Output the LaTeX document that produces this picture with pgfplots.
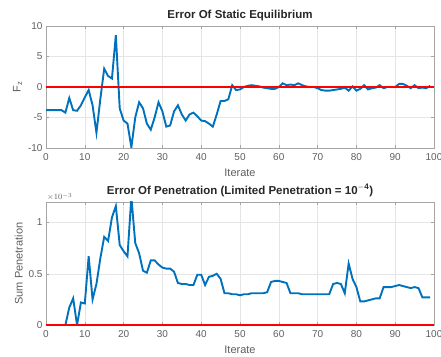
\documentclass[border=0pt]{standalone}
\usepackage{pgfplots}
\pgfplotsset{compat=1.18}
\usepackage{fontspec}
\setmainfont{Liberation Sans}
\definecolor{mblue}{RGB}{0,114,189}
\definecolor{tickgray}{RGB}{95,95,95}
\begin{document}
\begin{tikzpicture}
\useasboundingbox (0,0) rectangle (441pt,356pt);
\pgfplotsset{
  common/.style={
    scale only axis, width=388pt, anchor=south west,
    xmin=0, xmax=100, xtick={0,10,...,100},
    grid=major, major grid style={gray!20, line width=0.4pt},
    axis line style={gray!70, line width=0.6pt},
    tick style={gray!70, line width=0.5pt}, tick align=inside,
    major tick length=3pt,
    ticklabel style={font=\fontsize{10}{12}\selectfont, text=tickgray},
    xticklabel style={yshift=-2pt},
    /pgf/number format/assume math mode=true,
    label style={font=\fontsize{11}{13}\selectfont, text=tickgray},
    title style={font=\fontsize{11.5}{13}\selectfont\bfseries, text=black!85, yshift=-4pt},
    xlabel={Iterate},
    xlabel style={yshift=-1pt},
  }
}
\begin{axis}[common, at={(46pt,208pt)}, height=122pt,
  ymin=-10, ymax=10, ytick={-10,-5,0,5,10},
  ylabel={F$_\mathrm{z}$}, ylabel style={yshift=-1pt},
  title={Error Of Static Equilibrium}]
\addplot[mblue, line width=1.9pt] coordinates {
(0,-3.8)(1,-3.8)(2,-3.8)(3,-3.8)(4,-3.8)(5,-4.2)(6,-1.8)(7,-3.8)(8,-3.9)(9,-3.0)
(10,-1.7)(11,-0.5)(12,-3.0)(13,-7.5)(14,-2.0)(15,3.0)(16,1.8)(17,1.4)(18,8.5)(19,-3.5)
(20,-5.5)(21,-6.0)(22,-9.9)(23,-5.0)(24,-2.5)(25,-3.5)(26,-6.0)(27,-7.0)(28,-5.0)(29,-2.5)
(30,-4.0)(31,-6.5)(32,-6.3)(33,-4.0)(34,-3.0)(35,-4.5)(36,-5.5)(37,-4.5)(38,-4.2)(39,-4.8)
(40,-5.5)(41,-5.6)(42,-6.0)(43,-6.5)(44,-4.5)(45,-2.3)(46,-2.3)(47,-2.0)(48,0.3)(49,-0.5)
(50,-0.4)(51,0.0)(52,0.2)(53,0.3)(54,0.2)(55,0.1)(56,-0.1)(57,-0.2)(58,-0.3)(59,-0.3)
(60,0.0)(61,0.6)(62,0.3)(63,0.4)(64,0.3)(65,0.6)(66,0.3)(67,0.1)(68,0.0)(69,0.0)
(70,-0.2)(71,-0.5)(72,-0.6)(73,-0.6)(74,-0.5)(75,-0.4)(76,-0.3)(77,-0.1)(78,-0.6)(79,0.1)
(80,-0.6)(81,-0.3)(82,0.3)(83,-0.4)(84,-0.2)(85,-0.1)(86,0.3)(87,-0.2)(88,0.0)(89,0.0)
(90,0.0)(91,0.5)(92,0.5)(93,0.2)(94,-0.2)(95,0.3)(96,-0.2)(97,-0.1)(98,-0.2)(99,0.2)
};
\addplot[red, line width=1.6pt] coordinates {(0,0)(100,0)};
\end{axis}
\begin{axis}[common, at={(46pt,31pt)}, height=123pt,
  ymin=0, ymax=1.2e-3, ytick={0,0.5e-3,1e-3},
  scaled y ticks=base 10:3,
  ytick scale label code/.code={$\times10^{#1}$},
  every y tick scale label/.style={at={(rel axis cs:0,1)}, anchor=south west, inner sep=1pt, font=\fontsize{8.5}{9}\selectfont, text=tickgray},
  ylabel={Sum Penetration}, ylabel style={yshift=-1pt},
  title={Error Of Penetration (Limited Penetration = 10$^{\mathbf{-4}}$)}]
\addplot[mblue, line width=1.9pt] coordinates {
(5,0)(6,0.17e-3)(7,0.26e-3)(8,0)(9,0.22e-3)
(10,0.21e-3)(11,0.67e-3)(12,0.25e-3)(13,0.40e-3)(14,0.65e-3)(15,0.86e-3)(16,0.82e-3)(17,1.05e-3)(18,1.16e-3)(19,0.78e-3)
(20,0.72e-3)(21,0.67e-3)(22,1.25e-3)(23,0.80e-3)(24,0.70e-3)(25,0.53e-3)(26,0.51e-3)(27,0.63e-3)(28,0.63e-3)(29,0.59e-3)
(30,0.56e-3)(31,0.55e-3)(32,0.55e-3)(33,0.52e-3)(34,0.41e-3)(35,0.40e-3)(36,0.40e-3)(37,0.39e-3)(38,0.39e-3)(39,0.49e-3)
(40,0.49e-3)(41,0.39e-3)(42,0.47e-3)(43,0.48e-3)(44,0.50e-3)(45,0.45e-3)(46,0.31e-3)(47,0.31e-3)(48,0.30e-3)(49,0.30e-3)
(50,0.29e-3)(51,0.30e-3)(52,0.30e-3)(53,0.31e-3)(54,0.31e-3)(55,0.31e-3)(56,0.31e-3)(57,0.32e-3)(58,0.42e-3)(59,0.43e-3)
(60,0.43e-3)(61,0.42e-3)(62,0.41e-3)(63,0.31e-3)(64,0.31e-3)(65,0.31e-3)(66,0.30e-3)(67,0.30e-3)(68,0.30e-3)(69,0.30e-3)
(70,0.30e-3)(71,0.30e-3)(72,0.30e-3)(73,0.30e-3)(74,0.40e-3)(75,0.41e-3)(76,0.40e-3)(77,0.31e-3)(78,0.60e-3)(79,0.45e-3)
(80,0.37e-3)(81,0.23e-3)(82,0.23e-3)(83,0.24e-3)(84,0.25e-3)(85,0.26e-3)(86,0.26e-3)(87,0.37e-3)(88,0.37e-3)(89,0.37e-3)
(90,0.38e-3)(91,0.39e-3)(92,0.38e-3)(93,0.37e-3)(94,0.36e-3)(95,0.37e-3)(96,0.36e-3)(97,0.27e-3)(98,0.27e-3)(99,0.27e-3)
};
\addplot[red, line width=1.6pt] coordinates {(0,0)(100,0)};
\end{axis}
\end{tikzpicture}
\end{document}
